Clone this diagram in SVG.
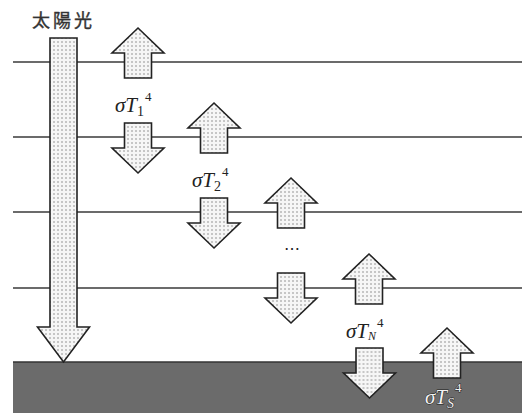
<svg xmlns="http://www.w3.org/2000/svg" width="522" height="413" viewBox="0 0 522 413">
<style>
.layer{stroke:#3a3a3a;stroke-width:1.6;fill:none}
.arr{fill:url(#dots);stroke:#222;stroke-width:1.6;stroke-linejoin:miter}
.lbl{font-family:"Liberation Serif",serif;font-style:italic;font-size:21px;fill:#222}
.sub{font-size:14px;font-style:normal}
.sup{font-size:13px;font-style:normal}
.gl{font-family:"Liberation Serif",serif;font-style:italic;font-size:21px;fill:#f2f2f2;stroke:#1a1a1a;stroke-width:0.9;paint-order:stroke}
</style>
<defs>
<pattern id="dots" width="4" height="4" patternUnits="userSpaceOnUse">
<rect width="4" height="4" fill="#f6f6f6"/>
<circle cx="2" cy="2" r="0.8" fill="#8a8a8a"/>
</pattern>
<path id="up" d="M0,0 L26,25 L13.5,25 L13.5,50 L-13.5,50 L-13.5,25 L-26,25 Z"/>
<path id="down" d="M0,0 L26,-25 L13.5,-25 L13.5,-50 L-13.5,-50 L-13.5,-25 L-26,-25 Z"/>
</defs>
<rect width="522" height="413" fill="#fff"/>
<g id="ground">
<rect x="13" y="362" width="509" height="51" fill="#6b6b6b"/>
<line x1="13" y1="362" x2="522" y2="362" stroke="#333" stroke-width="1.5"/>
</g>
<g id="connectors">
<line class="layer" x1="13" y1="62" x2="522" y2="62"/>
<line class="layer" x1="13" y1="137" x2="522" y2="137"/>
<line class="layer" x1="13" y1="212" x2="522" y2="212"/>
<line class="layer" x1="13" y1="288" x2="522" y2="288"/>
</g>
<g id="sunlight">
<text x="32" y="27" font-family="'Noto Sans CJK JP',sans-serif" font-size="18" letter-spacing="3" fill="#333" stroke="#333" stroke-width="0.4">太陽光</text>
<path class="arr" d="M50,38 L77,38 L77,327 L89.5,327 L63.5,362 L37.5,327 L50,327 Z"/>
</g>
<g id="level1">
<use href="#up" class="arr" x="138" y="28"/>
<use href="#down" class="arr" x="138" y="173"/>
<text class="lbl" x="115" y="112">σT<tspan class="sub" dy="4">1</tspan><tspan class="sup" dy="-15" dx="1">4</tspan></text>
</g>
<g id="level2">
<use href="#up" class="arr" x="214" y="103"/>
<use href="#down" class="arr" x="214" y="248"/>
<text class="lbl" x="192" y="187">σT<tspan class="sub" dy="4">2</tspan><tspan class="sup" dy="-15" dx="1">4</tspan></text>
</g>
<g id="level3">
<use href="#up" class="arr" x="291" y="178"/>
<use href="#down" class="arr" x="291" y="323"/>
<text x="292" y="254" font-family="'Liberation Serif',serif" font-size="16" text-anchor="middle" fill="#222">⋯</text>
</g>
<g id="levelN">
<use href="#up" class="arr" x="369" y="254"/>
<use href="#down" class="arr" x="369.5" y="398"/>
<text class="lbl" x="346" y="338">σT<tspan dy="2" font-size="12">N</tspan><tspan class="sup" dy="-13" dx="1">4</tspan></text>
</g>
<g id="surface">
<use href="#up" class="arr" x="447" y="328"/>
<text class="gl" x="425" y="404">σT<tspan dy="4" font-size="14">S</tspan><tspan class="sup" dy="-16" dx="1">4</tspan></text>
</g>
</svg>
